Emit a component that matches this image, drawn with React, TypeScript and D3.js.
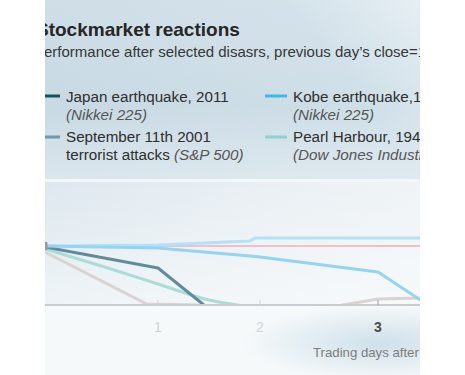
import React from "react";
import * as d3 from "d3";

const days = [0, 1, 2, 3];
const tickLabels = ["1", "2", "3"];
const tickValues = [1, 2, 3];

const japanX = [0, 1, 1.45, 2];
const japanY = [99.9, 97.8, 94.1, 90.5];

const kobeX = [0, 1, 1.9, 2, 3, 3.36];
const kobeY = [100, 99.8, 99.0, 98.9, 97.4, 94.6];

const upperX = [0, 1, 1.9, 1.95, 3, 3.36];
const upperY = [100, 100.1, 100.5, 100.8, 100.8, 100.8];

const pearlX = [0, 0.5, 1, 1.5, 2];
const pearlY = [99.7, 98.0, 96.2, 94.6, 93.8];

const greyX = [0, 0.9, 1.4, 1.9, 2.6, 3, 3.36];
const greyY = [99.4, 94.2, 94.1, 92.0, 93.9, 94.7, 94.8];

const baselineX = [0, 3.36];
const baselineY = [100, 100];

const legendNames = ["Japan earthquake, 2011", "Kobe earthquake,1995", "September 11th 2001", "Pearl Harbour, 1941"];
const legendSources = ["(Nikkei 225)", "(Nikkei 225)", "(S&P 500)", "(Dow Jones Industrial Average)"];
const legendColors = ["#1d4d63", "#3fb8ea", "#6e99ae", "#8fd0ce"];

const W = 465;
const H = 375;
const font = "'Liberation Sans', Arial, sans-serif";

export default function App() {
  const x = d3.scaleLinear().domain(days).range([45, 158, 260, 378]);
  const y = d3.scaleLinear().domain([94, 100]).range([306, 246]);
  const line = d3
    .line<[number, number]>()
    .x((d) => x(d[0]))
    .y((d) => y(d[1]));
  const smooth = d3
    .line<[number, number]>()
    .x((d) => x(d[0]))
    .y((d) => y(d[1]))
    .curve(d3.curveMonotoneX);
  const zip = (a: number[], b: number[]) => a.map((v, i) => [v, b[i]] as [number, number]);

  const series = [
    { d: line(zip(baselineX, baselineY)), c: "#f2c0c4", w: 2 },
    { d: line(zip(greyX, greyY)), c: "#d9d3d3", w: 3 },
    { d: smooth(zip(pearlX, pearlY)), c: "#acdcd6", w: 3 },
    { d: line(zip(upperX, upperY)), c: "#b3e2f8", w: 3 },
    { d: line(zip(japanX, japanY)), c: "#5f8b9c", w: 3 },
    { d: line(zip(kobeX, kobeY)), c: "#94d4f2", w: 3 },
  ];

  return (
    <svg width={W} height={H} style={{ position: "absolute", left: 0, top: 0 }}>
      <defs>
        <clipPath id="pic">
          <rect x={45} y={0} width={375} height={375} />
        </clipPath>
        <clipPath id="plot">
          <rect x={45} y={182} width={375} height={122} />
        </clipPath>
        <linearGradient id="hdr" x1="0" y1="0.3" x2="1" y2="0">
          <stop offset="0" stopColor="#c8d9e3" />
          <stop offset="0.65" stopColor="#cfdfe8" />
          <stop offset="1" stopColor="#eaf1f5" />
        </linearGradient>
        <linearGradient id="hdrV" x1="0" y1="0" x2="0" y2="1">
          <stop offset="0" stopColor="#ffffff" stopOpacity="0.1" />
          <stop offset="0.6" stopColor="#ffffff" stopOpacity="0" />
          <stop offset="1" stopColor="#ffffff" stopOpacity="0.35" />
        </linearGradient>
        <linearGradient id="plotBg" x1="0" y1="0" x2="1" y2="0">
          <stop offset="0" stopColor="#e6eef2" />
          <stop offset="0.1" stopColor="#dde8ee" />
          <stop offset="0.45" stopColor="#e7eef3" />
          <stop offset="1" stopColor="#f1f5f7" />
        </linearGradient>
        <linearGradient id="plotV" x1="0" y1="0" x2="0" y2="1">
          <stop offset="0" stopColor="#ffffff" stopOpacity="0" />
          <stop offset="1" stopColor="#ffffff" stopOpacity="0.5" />
        </linearGradient>
        <radialGradient id="glow" cx="0.82" cy="0.55" r="0.3" gradientTransform="translate(0.82 0.55) scale(1 1.8) translate(-0.82 -0.55)">
          <stop offset="0" stopColor="#cfe0e9" />
          <stop offset="1" stopColor="#f6f9fa" />
        </radialGradient>
      </defs>
      <rect width={W} height={H} fill="#ffffff" />
      <g clipPath="url(#pic)">
        <rect x={0} y={0} width={W} height={179} fill="url(#hdr)" />
        <rect x={0} y={0} width={W} height={179} fill="url(#hdrV)" />
        <rect x={0} y={179} width={W} height={3} fill="#f4f7f9" />
        <rect x={0} y={182} width={W} height={122} fill="url(#plotBg)" />
        <rect x={0} y={182} width={W} height={122} fill="url(#plotV)" />
        <rect x={0} y={304} width={W} height={71} fill="url(#glow)" />

        <text x={36} y={36} fontFamily={font} fontWeight="bold" fontSize={19} fill="#262626">
          Stockmarket reactions
        </text>
        <text x={34} y={57} fontFamily={font} fontSize={15} fill="#363636">
          Performance after selected disasrs, previous day’s close=100
        </text>

        {legendNames.map((name, i) => {
          const col = i % 2;
          const row = Math.floor(i / 2);
          const lx = col === 0 ? 66 : 293;
          const by = row === 0 ? 102 : 142;
          const sy = row === 0 ? 96 : 137;
          return (
            <g key={name}>
              <line x1={lx - 28} x2={lx - 6} y1={sy} y2={sy} stroke={legendColors[i]} strokeWidth={3} />
              <text x={lx} y={by} fontFamily={font} fontSize={15.2} fill="#2e2e2e">
                {name}
              </text>
              {i === 2 ? (
                <text x={lx} y={by + 18} fontFamily={font} fontSize={15.2} fill="#2e2e2e">
                  terrorist attacks <tspan fontStyle="italic" fill="#555">{legendSources[i]}</tspan>
                </text>
              ) : (
                <text x={lx} y={by + 18} fontFamily={font} fontSize={15.2} fontStyle="italic" fill="#555">
                  {legendSources[i]}
                </text>
              )}
            </g>
          );
        })}

        <g clipPath="url(#plot)">
          {series.map((s, i) => (
            <path key={i} d={s.d || ""} fill="none" stroke={s.c} strokeWidth={s.w} strokeLinejoin="round" />
          ))}
          <line x1={x(0) + 1} x2={x(0) + 1} y1={y(100.4)} y2={y(99.6)} stroke="#9a9a9a" strokeWidth={3} />
        </g>

        <line x1={45} x2={420} y1={305} y2={305} stroke="#c8cdd1" strokeWidth={2} />
        {tickValues.map((t, i) => (
          <g key={t}>
            <line x1={x(t)} x2={x(t)} y1={300} y2={305} stroke={i === 2 ? "#999" : "#d3d7da"} strokeWidth={1} />
            <text
              x={x(t)}
              y={332}
              textAnchor="middle"
              fontFamily={font}
              fontSize={14}
              fontWeight={i === 2 ? "bold" : "normal"}
              fill={i === 2 ? "#4a4a4a" : "#d0d4d7"}
            >
              {tickLabels[i]}
            </text>
          </g>
        ))}
        <text x={313} y={357} fontFamily={font} fontSize={13.2} fill="#7d7d7d">
          Trading days after disaster
        </text>
      </g>
    </svg>
  );
}
